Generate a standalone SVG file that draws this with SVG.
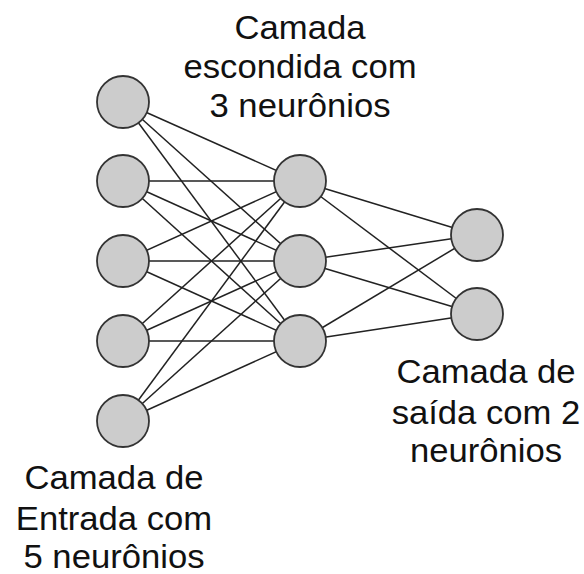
<svg xmlns="http://www.w3.org/2000/svg" width="584" height="574" viewBox="0 0 584 574">
<style>
.e{stroke:#222;stroke-width:1.5;fill:none}
.n{fill:#cccccc;stroke:#333;stroke-width:1.8}
.t{font-family:"Liberation Sans",Arial,sans-serif;font-size:33px;fill:#111;text-anchor:middle}
</style>
<rect width="584" height="574" fill="#fff"/>
<g id="connectors">
<line class="e" x1="123" y1="102" x2="300" y2="181"/>
<line class="e" x1="123" y1="102" x2="300" y2="261"/>
<line class="e" x1="123" y1="102" x2="300" y2="341"/>
<line class="e" x1="123" y1="181" x2="300" y2="181"/>
<line class="e" x1="123" y1="181" x2="300" y2="261"/>
<line class="e" x1="123" y1="181" x2="300" y2="341"/>
<line class="e" x1="123" y1="261" x2="300" y2="181"/>
<line class="e" x1="123" y1="261" x2="300" y2="261"/>
<line class="e" x1="123" y1="261" x2="300" y2="341"/>
<line class="e" x1="123" y1="341" x2="300" y2="181"/>
<line class="e" x1="123" y1="341" x2="300" y2="261"/>
<line class="e" x1="123" y1="341" x2="300" y2="341"/>
<line class="e" x1="123" y1="421" x2="300" y2="181"/>
<line class="e" x1="123" y1="421" x2="300" y2="261"/>
<line class="e" x1="123" y1="421" x2="300" y2="341"/>
<line class="e" x1="300" y1="181" x2="477" y2="235"/>
<line class="e" x1="300" y1="181" x2="477" y2="314"/>
<line class="e" x1="300" y1="261" x2="477" y2="235"/>
<line class="e" x1="300" y1="261" x2="477" y2="314"/>
<line class="e" x1="300" y1="341" x2="477" y2="235"/>
<line class="e" x1="300" y1="341" x2="477" y2="314"/>
</g>
<g id="in1"><circle class="n" cx="123" cy="102" r="26"/></g>
<g id="in2"><circle class="n" cx="123" cy="181" r="26"/></g>
<g id="in3"><circle class="n" cx="123" cy="261" r="26"/></g>
<g id="in4"><circle class="n" cx="123" cy="341" r="26"/></g>
<g id="in5"><circle class="n" cx="123" cy="421" r="26"/></g>
<g id="h1"><circle class="n" cx="300" cy="181" r="26"/></g>
<g id="h2"><circle class="n" cx="300" cy="261" r="26"/></g>
<g id="h3"><circle class="n" cx="300" cy="341" r="26"/></g>
<g id="o1"><circle class="n" cx="477" cy="235" r="26"/></g>
<g id="o2"><circle class="n" cx="477" cy="314" r="26"/></g>
<g id="label-hidden">
<text class="t" transform="translate(300,39) scale(1.05,1)">Camada</text>
<text class="t" transform="translate(300,78) scale(1.05,1)">escondida com</text>
<text class="t" transform="translate(300,117) scale(1.05,1)">3 neurônios</text>
</g>
<g id="label-output">
<text class="t" transform="translate(486,383) scale(1.05,1)">Camada de</text>
<text class="t" transform="translate(486,424) scale(1.05,1)">saída com 2</text>
<text class="t" transform="translate(486,462) scale(1.05,1)">neurônios</text>
</g>
<g id="label-input">
<text class="t" transform="translate(114,489) scale(1.05,1)">Camada de</text>
<text class="t" transform="translate(114,530) scale(1.05,1)">Entrada com</text>
<text class="t" transform="translate(114,568) scale(1.05,1)">5 neurônios</text>
</g>
</svg>
